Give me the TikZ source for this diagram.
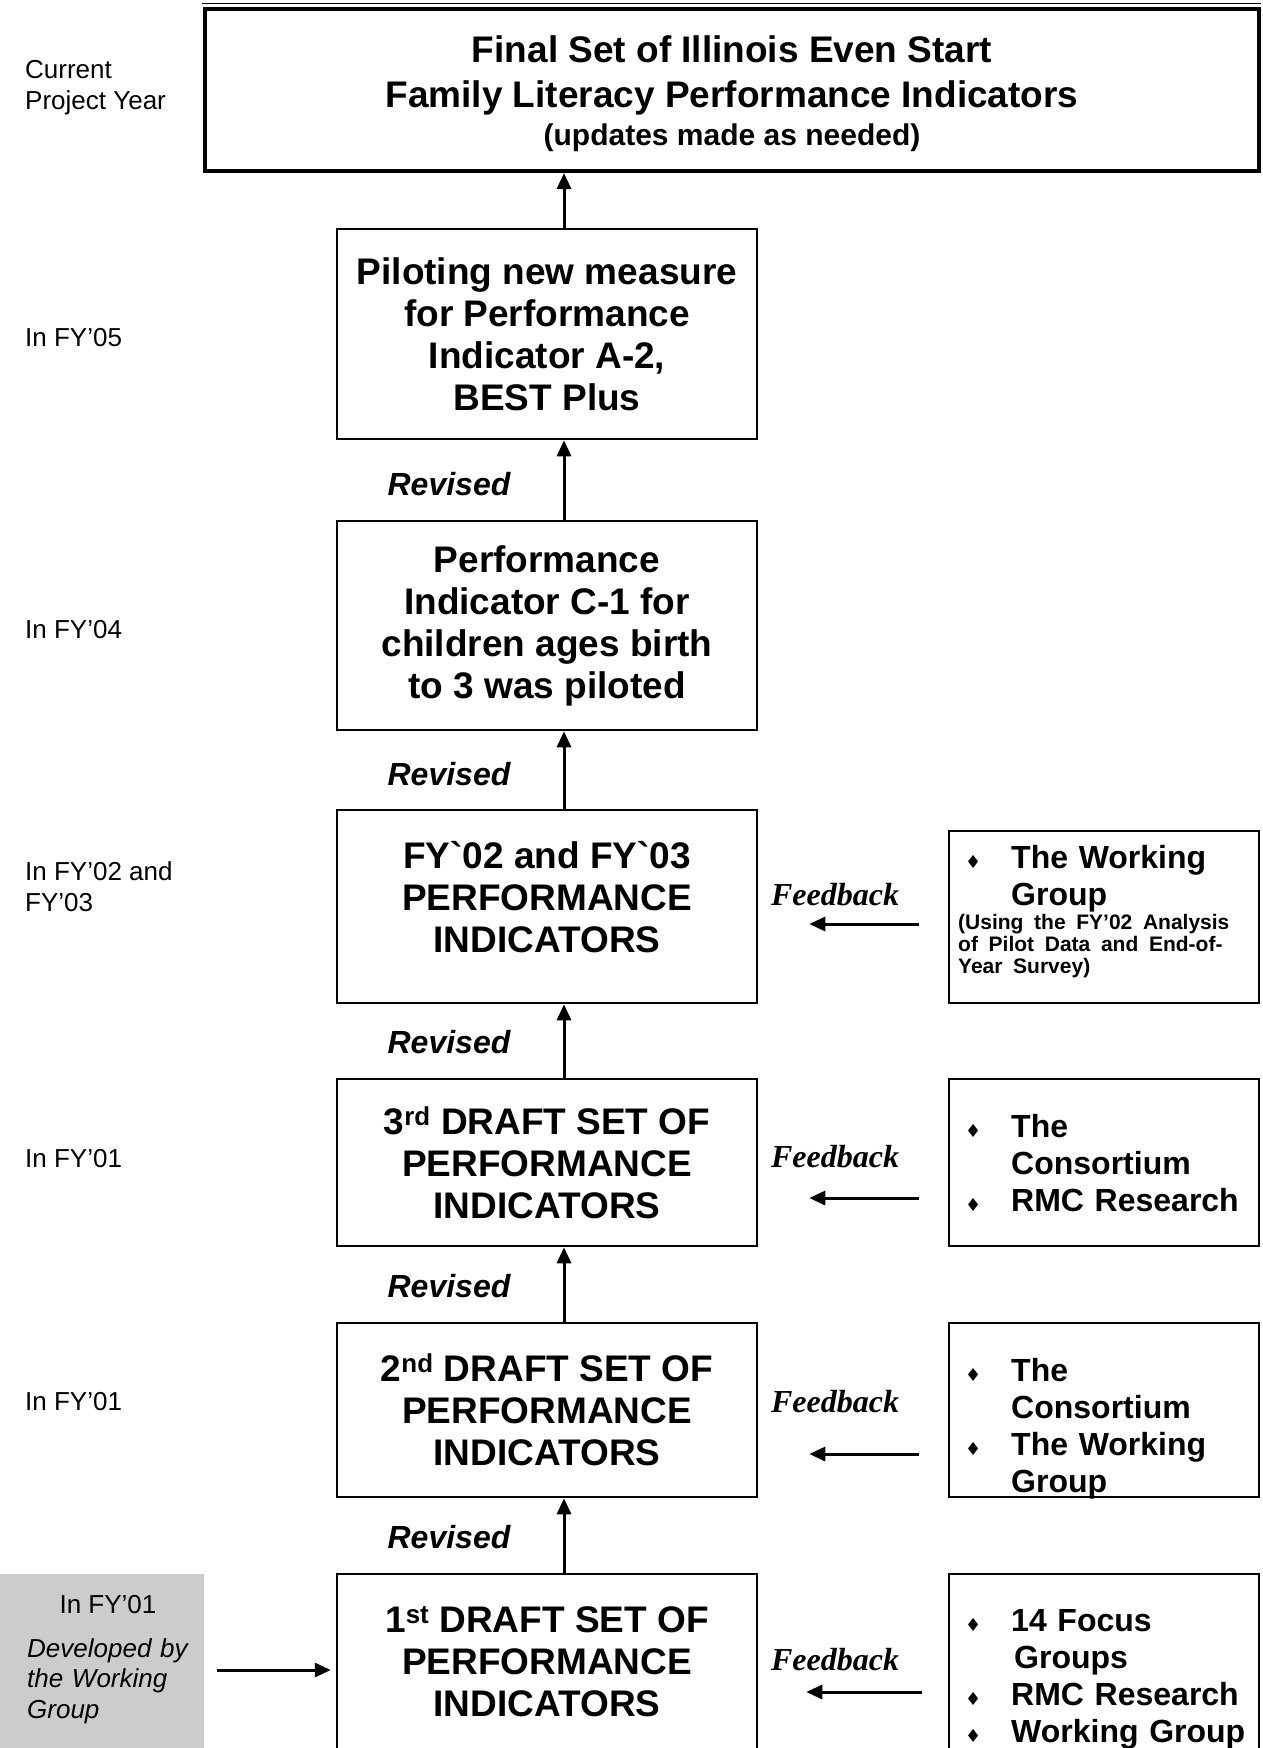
\documentclass[tikz,border=0pt]{standalone}
\usepackage{fontspec}
\setmainfont{Liberation Sans}
\newfontfamily\fbfont{Liberation Serif}
\newfontfamily\plainsans{Liberation Sans}
\newfontfamily\dejavu{DejaVu Sans}
\usetikzlibrary{arrows.meta}
\newcommand\bul{\makebox[53pt][l]{\hspace*{7pt}{\dejavu\fontsize{18}{18}\selectfont ♦}}}
\newcommand\bitem[1]{\hangindent=53pt\hangafter=1\bul#1\par}
\newcommand\bq{{\plainsans\symbol{96}}}
\begin{document}
\begin{tikzpicture}[x=1pt,y=-1pt,
  box/.style={draw, line width=2.5pt, minimum width=420pt, align=center, inner sep=0pt,
    font=\bfseries\fontsize{37}{42}\selectfont},
  rbox/.style={draw, line width=2.5pt, minimum width=310pt, inner sep=0pt},
  yr/.style={anchor=west, align=left, inner sep=0pt, font=\fontsize{26}{31}\selectfont},
  rev/.style={inner sep=0pt, font=\bfseries\itshape\fontsize{32}{36}\selectfont},
  fb/.style={inner sep=0pt, font=\fbfont\bfseries\itshape\fontsize{32}{36}\selectfont},
  arr/.style={line width=3pt, -{Triangle[length=16pt,width=14pt]}},
  rbt/.style={anchor=base west, text width=300pt, align=left, inner sep=0pt,
    font=\bfseries\fontsize{32}{37}\selectfont},
]
\useasboundingbox (0,0) rectangle (1262,1748);
\clip (0,0) rectangle (1262,1748);

% top box
\node[draw, line width=4pt, minimum width=1054pt, minimum height=162pt, inner sep=0pt, align=center,
  font=\bfseries\fontsize{37}{45}\selectfont] (top) at (732,90)
  {\mbox{}\\[-11pt]Final Set of Illinois Even Start\\Family Literacy Performance Indicators\\[-7pt]
   {\fontsize{30}{34}\selectfont (updates made as needed)}};
\draw[line width=1.5pt] (top.north west) ++(-1,-3.5) coordinate (tl) -- (tl -| top.north east);

% main column
\node[box, minimum height=210pt] (b2) at (547,334)
  {Piloting new measure\\for Performance\\Indicator A-2,\\BEST Plus};
\node[box, minimum height=209pt] (b3) at (547,625.5)
  {Performance\\Indicator C-1 for\\children ages birth\\to 3 was piloted};
\node[box, minimum height=193pt] (b4) at (547,906.5)
  {FY\bq02 and FY\bq03\\PERFORMANCE\\INDICATORS\\[-23pt]\mbox{}};
\node[box, minimum height=167pt] (b5) at (547,1162.5)
  {3\textsuperscript{rd} DRAFT SET OF\\PERFORMANCE\\INDICATORS};
\node[box, minimum height=174pt] (b6) at (547,1410)
  {2\textsuperscript{nd} DRAFT SET OF\\PERFORMANCE\\INDICATORS};
\node[box, minimum height=176pt] (b7) at (547,1662)
  {1\textsuperscript{st} DRAFT SET OF\\PERFORMANCE\\INDICATORS};

% right boxes
\node[rbox, minimum height=172pt] (rb4) at (1104,917) {};
\node[rbox, minimum height=167pt] (rb5) at (1104,1162.5) {};
\node[rbox, minimum height=174pt] (rb6) at (1104,1410) {};
\node[rbox, minimum height=176pt] (rb7) at (1104,1662) {};

\node[rbt] (rb4t) at (958,868)
  {\bitem{The Working\newline Group}%
   \vspace{2pt}{\fontsize{21}{22}\selectfont (Using the FY'02 Analysis\newline of Pilot Data and End-of-\newline Year Survey)\par}};
\node[rbt] (rb5t) at (958,1137.5)
  {\bitem{The\newline Consortium}\bitem{RMC Research}};
\node[rbt] (rb6t) at (958,1381.5)
  {\bitem{The\newline Consortium}\bitem{The Working\newline Group}};
\node[rbt] (rb7t) at (958,1631.5)
  {\bitem{14 Focus\newline \hspace*{3pt}Groups}\bitem{RMC Research}\bitem{Working Group}};

% gray box
\node[fill=black!20, minimum width=204pt, minimum height=176pt, inner sep=0pt] (gb) at (102,1662) {};
\node[inner sep=0pt, font=\fontsize{26}{31}\selectfont] (gbt1) at (108,1605) {In FY'01};
\node[anchor=base west, text width=175pt, align=left, inner sep=0pt,
  font=\itshape\fontsize{26}{30.5}\selectfont] (gbt2) at (27,1657)
  {Developed by\\the Working\\Group};

% year labels
\node[yr] (y1) at (25,88) {Current\\Project Year};
\node[yr] (y2) at (25,338) {In FY'05};
\node[yr] (y3) at (25,630) {In FY'04};
\node[yr] (y4) at (25,887) {In FY'02 and\\FY'03};
\node[yr] (y5) at (25,1159) {In FY'01};
\node[yr] (y6) at (25,1402) {In FY'01};

% revised labels
\node[rev] (r1) at (449,484) {Revised};
\node[rev] (r2) at (449,774) {Revised};
\node[rev] (r3) at (449,1042) {Revised};
\node[rev] (r4) at (449,1286) {Revised};
\node[rev] (r5) at (449,1537) {Revised};

% feedback labels
\node[fb] (f4) at (835,895) {Feedback};
\node[fb] (f5) at (835,1157) {Feedback};
\node[fb] (f6) at (835,1402) {Feedback};
\node[fb] (f7) at (835,1660) {Feedback};

% vertical arrows
\coordinate (ax) at (564,0);
\draw[arr] (b2.north -| ax) -- (top.south -| ax);
\draw[arr] (b3.north -| ax) -- (b2.south -| ax);
\draw[arr] (b4.north -| ax) -- (b3.south -| ax);
\draw[arr] (b5.north -| ax) -- (b4.south -| ax);
\draw[arr] (b6.north -| ax) -- (b5.south -| ax);
\draw[arr] (b7.north -| ax) -- (b6.south -| ax);

% feedback arrows
\coordinate (fy4) at (0,924);
\coordinate (fy5) at (0,1198);
\coordinate (fy6) at (0,1454);
\coordinate (fy7) at (0,1692);
\draw[arr, shorten <=29pt, shorten >=51pt] (rb4.west |- fy4) -- (b4.east |- fy4);
\draw[arr, shorten <=29pt, shorten >=51pt] (rb5.west |- fy5) -- (b5.east |- fy5);
\draw[arr, shorten <=29pt, shorten >=51pt] (rb6.west |- fy6) -- (b6.east |- fy6);
\draw[arr, shorten <=26pt, shorten >=48pt] (rb7.west |- fy7) -- (b7.east |- fy7);

% gray box arrow
\coordinate (gy) at (0,1670);
\draw[arr, shorten <=13pt, shorten >=5pt] (gb.east |- gy) -- (b7.west |- gy);
\end{tikzpicture}
\end{document}
